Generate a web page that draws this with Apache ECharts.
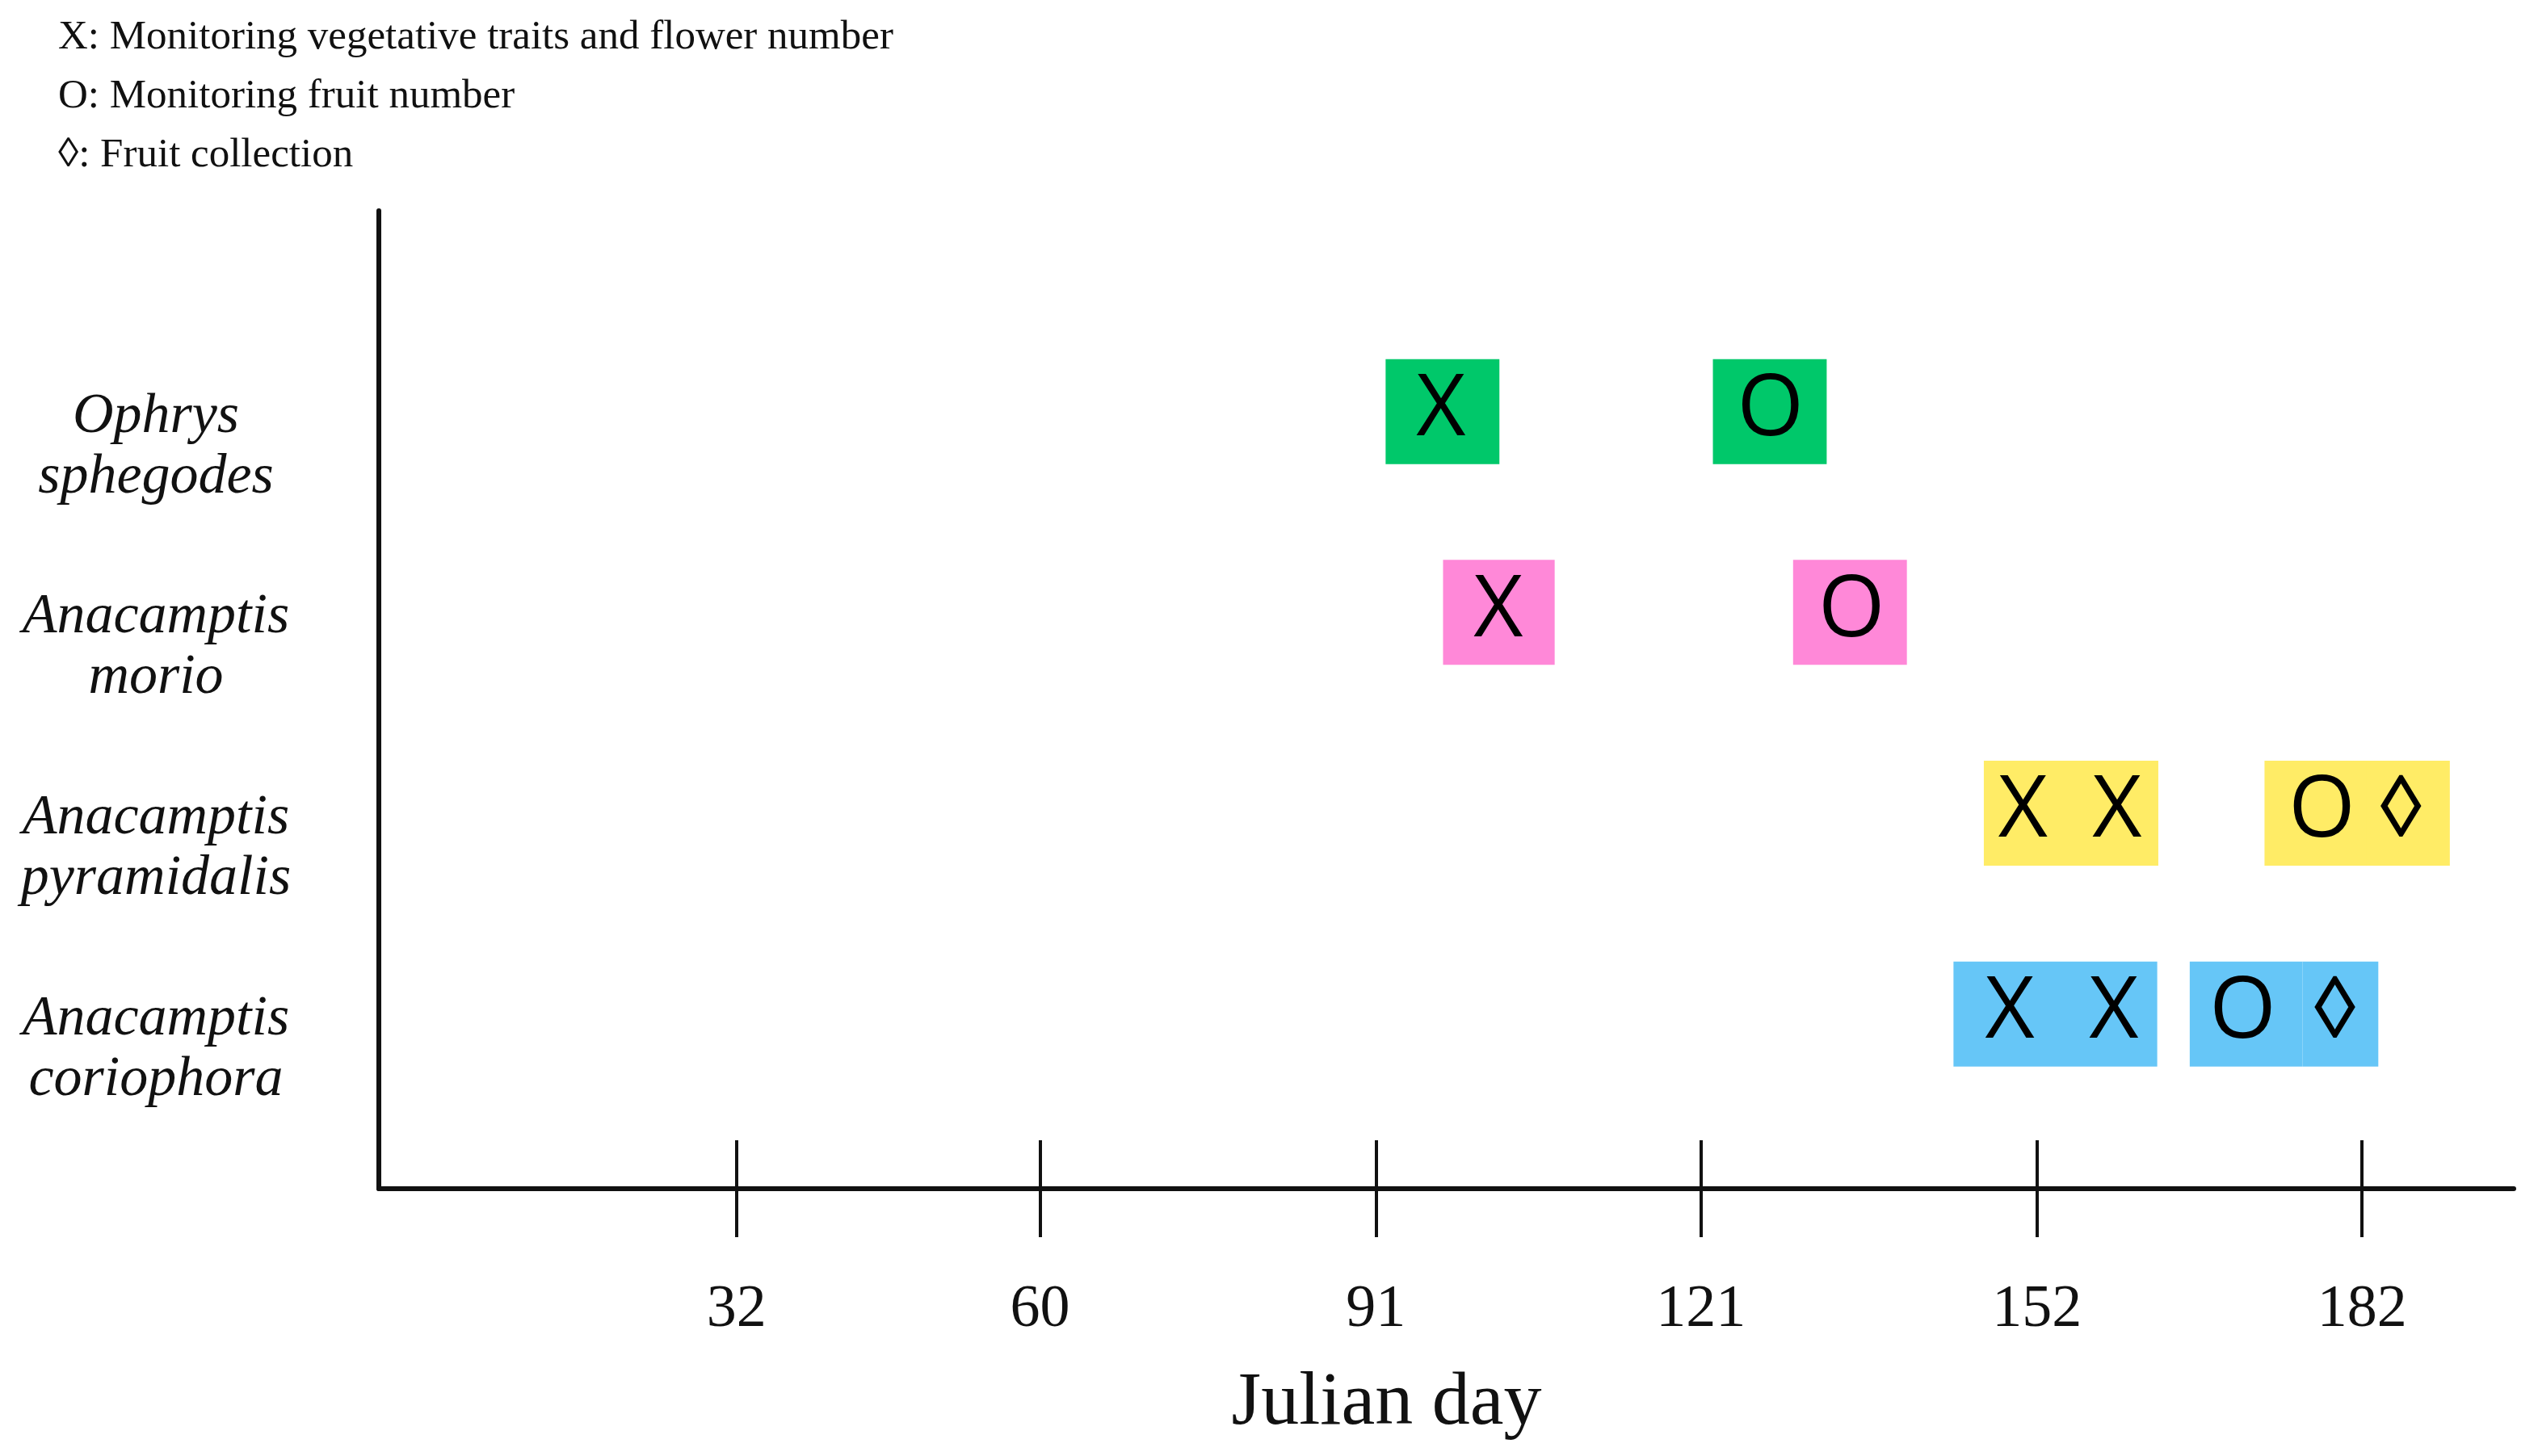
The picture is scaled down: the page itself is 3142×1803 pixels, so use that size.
<!DOCTYPE html>
<html>
<head>
<meta charset="utf-8">
<script src="https://cdn.jsdelivr.net/npm/echarts@6/dist/echarts.min.js"></script>
<style>
  html, body { margin: 0; padding: 0; background: #fff; }
  #chart { width: 3142px; height: 1803px; }
</style>
</head>
<body>
<div id="chart"></div>
<script>
// species rows (top to bottom)
const species = ['Ophrys sphegodes', 'Anacamptis morio', 'Anacamptis pyramidalis', 'Anacamptis coriophora'];
const speciesColors = ['#00C86A', '#FF88D8', '#FFEC66', '#66C6F7'];

// x axis ticks (Julian day)
const dayTicks = [32, 60, 91, 121, 152, 182];

// highlighted spans: species index, start day, end day
const boxSpecies = [0, 0, 1, 1, 2, 2, 2, 3, 3, 3];
const boxStart   = [91.9, 122.1, 97.2, 129.5, 147.1, 173.0, 182.4, 144.3, 166.1, 176.5];
const boxEnd     = [102.4, 132.6, 107.5, 140.0, 163.2, 183.5, 190.1, 163.1, 176.5, 183.5];

// monitoring events: species index, day, mark
const eventSpecies = [0, 0, 1, 1, 2, 2, 2, 2, 3, 3, 3, 3];
const eventDay     = [97.0, 127.4, 102.3, 134.9, 150.7, 159.4, 178.3, 185.6, 149.5, 159.1, 171.0, 179.5];
const eventMark    = ['X', 'O', 'X', 'O', 'X', 'X', 'O', '\u25CA', 'X', 'X', 'O', '\u25CA'];

const legendLines = [
  'X: Monitoring vegetative traits and flower number',
  'O: Monitoring fruit number',
  '\u25CA: Fruit collection'
];

const BOX_H = 130;
const serif = '"Liberation Serif", "Times New Roman", serif';

const chart = echarts.init(document.getElementById('chart'));

const option = {
  backgroundColor: '#fff',
  animation: false,
  title: {
    text: legendLines.join('\n'),
    left: 72,
    top: 10,
    padding: 0,
    textStyle: {
      fontFamily: serif,
      fontSize: 51,
      fontWeight: 'normal',
      lineHeight: 73,
      color: '#111'
    }
  },
  grid: { left: 469, right: 30, top: 261, bottom: 331 },
  xAxis: [
    {
      type: 'value',
      min: -1,
      max: 196,
      name: 'Julian day',
      nameLocation: 'middle',
      nameGap: 219,
      nameTextStyle: {
        fontFamily: serif, fontSize: 94, color: '#111',
        padding: [0, 148, 0, 0]
      },
      axisLine: { show: true, onZero: false, lineStyle: { color: '#111', width: 6 } },
      axisTick: { show: true, length: 60, customValues: dayTicks, lineStyle: { color: '#111', width: 4 } },
      axisLabel: {
        customValues: dayTicks, margin: 114,
        fontFamily: serif, fontSize: 74, color: '#111'
      },
      splitLine: { show: false }
    },
    {
      // inner half of the crossing tick marks
      type: 'value',
      min: -1,
      max: 196,
      position: 'bottom',
      axisLine: { show: false, onZero: false },
      axisTick: { show: true, inside: true, length: 60, customValues: dayTicks, lineStyle: { color: '#111', width: 4 } },
      axisLabel: { show: false },
      splitLine: { show: false }
    }
  ],
  yAxis: {
    type: 'value',
    inverse: true,
    min: 0,
    max: 4.87,
    interval: 1,
    axisLine: { show: true, onZero: false, lineStyle: { color: '#111', width: 6 } },
    axisTick: { show: false },
    splitLine: { show: false },
    axisLabel: {
      align: 'center',
      margin: 276,
      fontFamily: serif,
      fontStyle: 'italic',
      fontSize: 70,
      lineHeight: 75,
      color: '#111',
      formatter: function (v) {
        const name = Number.isInteger(v) ? species[v - 1] : null;
        if (!name) return '';
        // spacer line pushes the two-line name a little below the row
        return '{gap| }\n' + name.split(' ').map(w => '{sp|' + w + '}').join('\n');
      },
      rich: {
        gap: { fontSize: 10, lineHeight: 88 },
        sp: {
          fontFamily: serif, fontStyle: 'italic', fontSize: 70,
          lineHeight: 75, color: '#111', align: 'center'
        }
      }
    }
  },
  series: [
    {
      type: 'custom',
      name: 'spans',
      xAxisIndex: 0,
      renderItem: function (params, api) {
        const row = api.value(0);
        const p0 = api.coord([api.value(1), row]);
        const p1 = api.coord([api.value(2), row]);
        return {
          type: 'rect',
          shape: { x: p0[0], y: p0[1] - BOX_H / 2, width: p1[0] - p0[0], height: BOX_H },
          style: { fill: speciesColors[row - 1] }
        };
      },
      encode: { x: [1, 2], y: 0 },
      data: boxSpecies.map((s, i) => [s + 1, boxStart[i], boxEnd[i]])
    },
    {
      type: 'custom',
      name: 'events',
      xAxisIndex: 0,
      renderItem: function (params, api) {
        const p = api.coord([api.value(1), api.value(0)]);
        return {
          type: 'text',
          x: p[0],
          y: p[1] - 1,
          style: {
            text: eventMark[params.dataIndex],
            fontFamily: '"Open Sans", "DejaVu Sans", sans-serif',
            fontSize: 106,
            fill: '#000',
            align: 'center',
            verticalAlign: 'middle'
          }
        };
      },
      encode: { x: 1, y: 0 },
      data: eventSpecies.map((s, i) => [s + 1, eventDay[i]])
    }
  ]
};

chart.setOption(option);
</script>
</body>
</html>
